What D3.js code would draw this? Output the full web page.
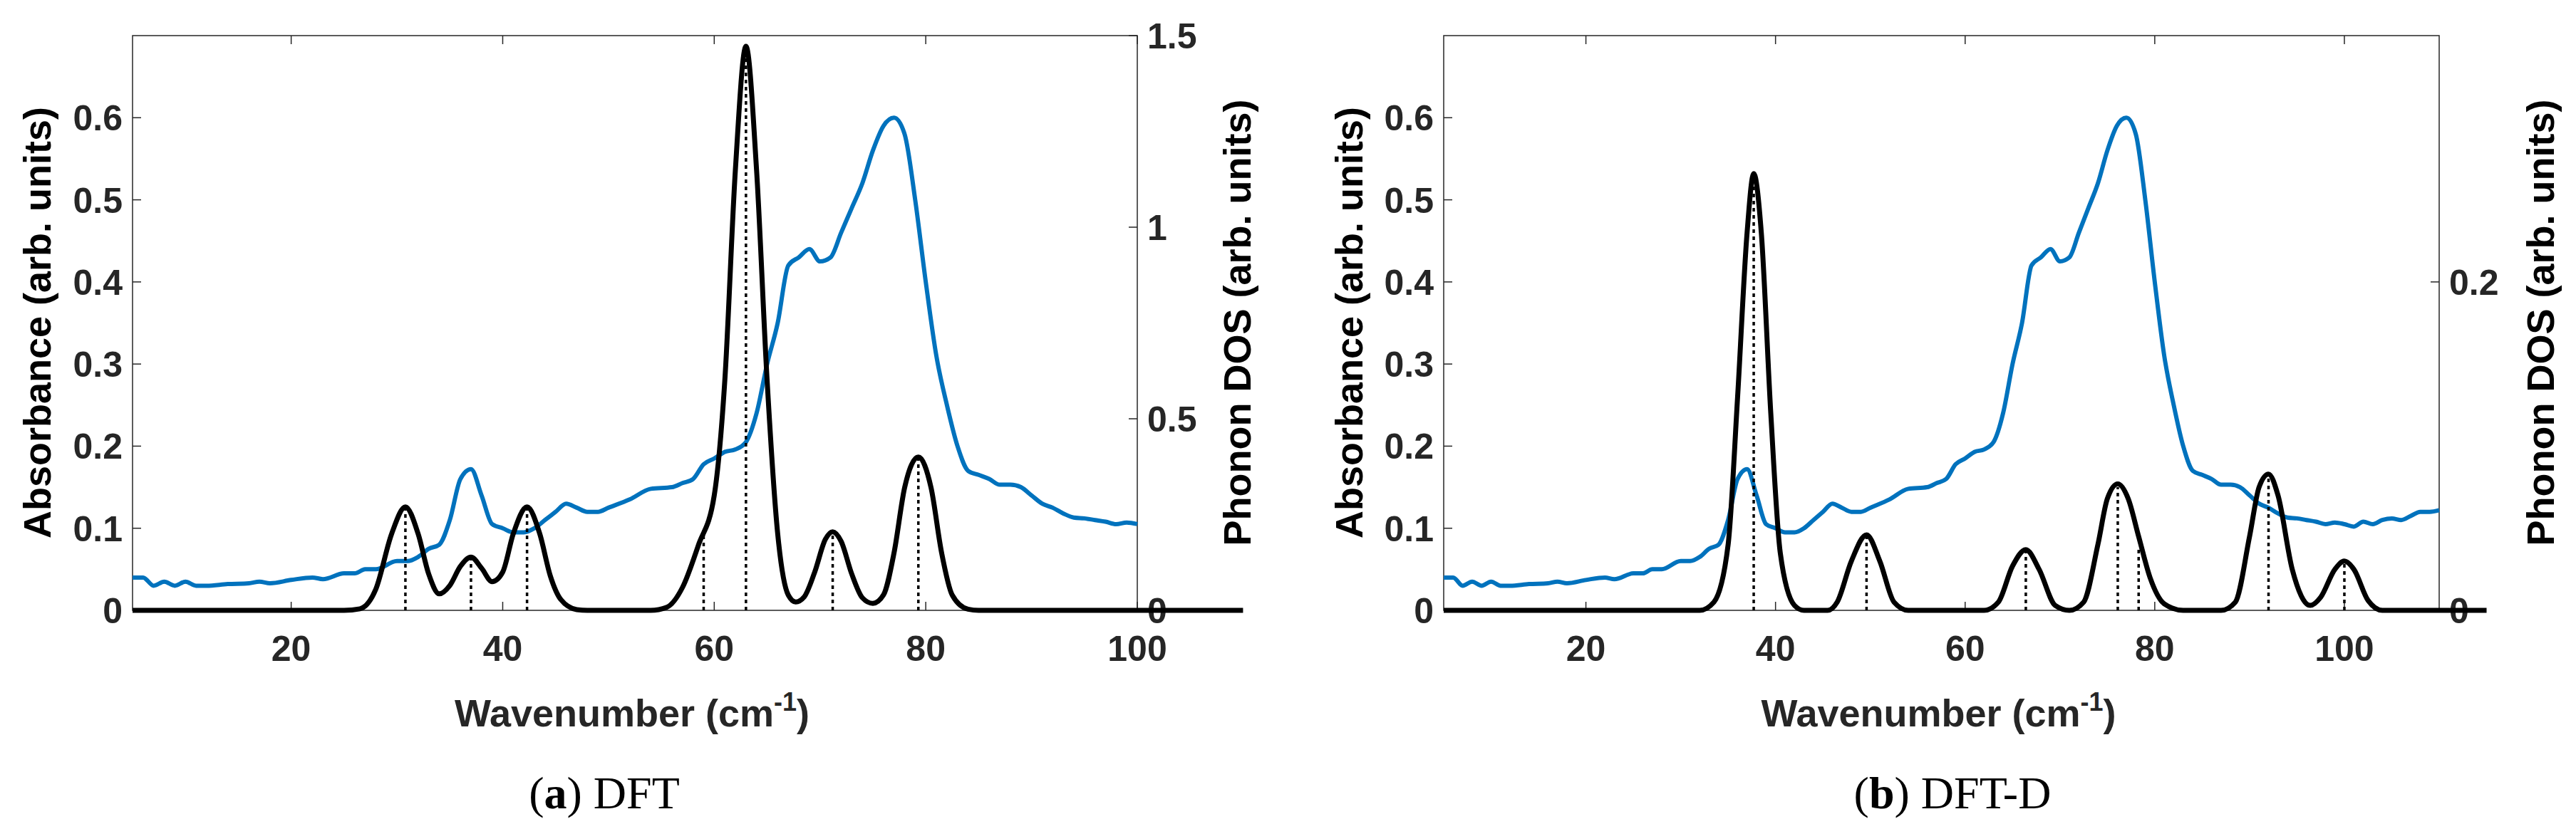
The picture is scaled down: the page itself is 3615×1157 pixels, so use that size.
<!DOCTYPE html>
<html><head><meta charset="utf-8">
<script src="https://cdn.jsdelivr.net/npm/d3@7"></script>
<style>body{margin:0;background:#fff}</style>
</head><body>
<svg id="c" width="3615" height="1157"></svg>
<script>
// measured absorbance (same sample in both panels)
const absorbance = [[5,0.04],[6,0.04],[7,0.03],[8,0.035],[9,0.03],[10,0.035],[11,0.03],[12,0.03],[14,0.032],[16,0.033],[17,0.035],[18,0.033],[20,0.037],[22,0.04],[23,0.038],[25,0.045],[26,0.045],[27,0.05],[28,0.05],[30,0.06],[31,0.06],[32,0.065],[33,0.075],[34,0.08],[35,0.11],[36,0.16],[37,0.172],[38,0.14],[39,0.105],[40,0.1],[41,0.095],[42,0.095],[43,0.1],[44,0.11],[45,0.12],[46,0.13],[47,0.125],[48,0.12],[49,0.12],[50,0.125],[52,0.135],[54,0.148],[56,0.15],[57,0.155],[58,0.16],[59,0.178],[60,0.185],[61,0.193],[62,0.196],[63,0.205],[64,0.24],[65,0.3],[66,0.35],[67,0.42],[68,0.43],[69,0.44],[70,0.425],[71,0.43],[72,0.46],[73,0.49],[74,0.52],[75,0.56],[76,0.59],[77,0.6],[78,0.58],[79,0.5],[80,0.4],[81,0.31],[82,0.25],[83,0.2],[84,0.17],[85,0.165],[86,0.16],[87,0.153],[88,0.153],[89,0.15],[90,0.14],[91,0.13],[92,0.125],[93,0.118],[94,0.113],[95,0.112],[96,0.11],[97,0.108],[98,0.105],[99,0.107],[100,0.105],[101,0.102],[102,0.108],[103,0.105],[104,0.11],[105,0.112],[106,0.11],[107,0.115],[108,0.12],[109,0.12],[110,0.122]];

// phonon DOS, DFT
const dosA = [[5,0],[25,0],[26.5,0.004],[28,0.055],[29.5,0.2],[30.8,0.27],[32,0.2],[33,0.095],[34,0.043],[35,0.065],[36,0.115],[37,0.139],[38,0.11],[39,0.075],[40,0.1],[41,0.2],[42.3,0.27],[43.5,0.2],[44.5,0.09],[45.5,0.028],[47,0.002],[48,0],[54,0],[55.5,0.008],[57,0.06],[58.5,0.17],[60,0.3],[61,0.6],[62,1.15],[63,1.472],[64,1.15],[65,0.6],[66,0.2],[67,0.04],[67.7,0.022],[68.5,0.035],[69.5,0.1],[70.5,0.185],[71.2,0.205],[72,0.18],[73,0.095],[74,0.033],[75,0.018],[76,0.04],[77,0.15],[78,0.32],[79.3,0.4],[80.5,0.32],[81.5,0.15],[82.5,0.04],[84,0.003],[85,0],[110,0]];
const modesA = [[30.8,0.265],[37,0.135],[42.3,0.265],[59,0.21],[63,1.46],[71.2,0.2],[79.3,0.395]];

// phonon DOS, DFT-D
const dosB = [[5,0],[32,0],[33.5,0.005],[35,0.04],[36,0.13],[37,0.23],[37.7,0.266],[38.5,0.23],[39.5,0.12],[40.5,0.035],[42,0.003],[43,0],[45.5,0],[46.5,0.005],[48,0.03],[49.6,0.046],[51,0.03],[52.5,0.005],[54,0],[62,0],[63.5,0.005],[65,0.027],[66.4,0.037],[67.8,0.025],[69.5,0.003],[71,0],[72.5,0.005],[74,0.04],[75,0.068],[76.1,0.077],[77.2,0.068],[78.3,0.045],[79.5,0.02],[81,0.004],[83,0],[87,0],[88.5,0.005],[90,0.045],[91,0.075],[92,0.083],[93,0.07],[94.5,0.025],[96.4,0.003],[97.5,0.008],[99,0.025],[100,0.03],[101,0.025],[102.5,0.006],[104,0],[115,0]];
const modesB = [[37.7,0.26],[49.6,0.045],[66.4,0.036],[76.1,0.075],[78.3,0.038],[92,0.082],[100,0.03]];

const xTicks = [20,40,60,80,100];
const absTicks = [0,0.1,0.2,0.3,0.4,0.5,0.6];

const panels = [
  {left:186, right:1596, xMax:100, absUntil:100, dos:dosA, modes:modesA, dosMax:1.5, dosTicks:[0,0.5,1,1.5],
   fmt:d=>d===1?'1':d, letter:'a', name:'DFT', capX:848, ylx:52, yrx:1736},
  {left:2026, right:3423, xMax:110, absUntil:110, dos:dosB, modes:modesB, dosMax:0.35, dosTicks:[0,0.2],
   fmt:d=>d, letter:'b', name:'DFT-D', capX:2740, ylx:1893, yrx:3565}
];
const plotTop = 50, plotBottom = 857;
const svg = d3.select('#c');
const font = "'Liberation Sans', Arial, sans-serif";

panels.forEach(p => {
  const x = d3.scaleLinear().domain([5, p.xMax]).range([p.left, p.right]);
  const y = d3.scaleLinear().domain([0, 0.7]).range([plotBottom, plotTop]);
  const y2 = d3.scaleLinear().domain([0, p.dosMax]).range([plotBottom, plotTop]);
  const g = svg.append('g');

  // frame
  g.append('rect').attr('x', p.left).attr('y', plotTop).attr('width', p.right - p.left).attr('height', plotBottom - plotTop)
    .attr('fill', 'none').attr('stroke', '#262626').attr('stroke-width', 1.5);

  // ticks
  xTicks.forEach(t => {
    g.append('line').attr('x1', x(t)).attr('x2', x(t)).attr('y1', plotBottom).attr('y2', plotBottom - 12).attr('stroke', '#262626').attr('stroke-width', 1.5);
    g.append('line').attr('x1', x(t)).attr('x2', x(t)).attr('y1', plotTop).attr('y2', plotTop + 12).attr('stroke', '#262626').attr('stroke-width', 1.5);
    g.append('text').attr('x', x(t)).attr('y', 928).attr('text-anchor', 'middle')
      .attr('font-family', font).attr('font-size', 50).attr('font-weight', 'bold').attr('fill', '#262626').text(t);
  });
  absTicks.forEach(t => {
    g.append('line').attr('x1', p.left).attr('x2', p.left + 12).attr('y1', y(t)).attr('y2', y(t)).attr('stroke', '#262626').attr('stroke-width', 1.5);
    g.append('text').attr('x', p.left - 14).attr('y', y(t) + 18).attr('text-anchor', 'end')
      .attr('font-family', font).attr('font-size', 50).attr('font-weight', 'bold').attr('fill', '#262626').text(t);
  });
  p.dosTicks.forEach(t => {
    g.append('line').attr('x1', p.right).attr('x2', p.right - 12).attr('y1', y2(t)).attr('y2', y2(t)).attr('stroke', '#262626').attr('stroke-width', 1.5);
    g.append('text').attr('x', p.right + 14).attr('y', y2(t) + 18).attr('text-anchor', 'start')
      .attr('font-family', font).attr('font-size', 50).attr('font-weight', 'bold').attr('fill', '#262626').text(p.fmt(t));
  });

  // absorbance
  g.append('path').datum(absorbance.filter(d => d[0] <= p.absUntil))
    .attr('d', d3.line().x(d => x(d[0])).y(d => y(d[1])).curve(d3.curveMonotoneX))
    .attr('fill', 'none').attr('stroke', '#0072bd').attr('stroke-width', 6);

  // mode sticks
  g.selectAll(null).data(p.modes).enter().append('line')
    .attr('x1', d => x(d[0])).attr('x2', d => x(d[0]))
    .attr('y1', plotBottom).attr('y2', d => y2(d[1]))
    .attr('stroke', '#000').attr('stroke-width', 3.5).attr('stroke-dasharray', '5,5');

  // phonon DOS
  g.append('path').datum(p.dos)
    .attr('d', d3.line().x(d => x(d[0])).y(d => y2(d[1])).curve(d3.curveMonotoneX))
    .attr('fill', 'none').attr('stroke', '#000').attr('stroke-width', 7);

  // axis titles
  g.append('text').attr('transform', `translate(${p.ylx},453) rotate(-90)`).attr('text-anchor', 'middle')
    .attr('dominant-baseline', 'central').attr('font-family', font).attr('font-size', 54).attr('font-weight', 'bold')
    .attr('fill', '#000').text('Absorbance (arb. units)');
  g.append('text').attr('transform', `translate(${p.yrx},453) rotate(-90)`).attr('text-anchor', 'middle')
    .attr('dominant-baseline', 'central').attr('font-family', font).attr('font-size', 54).attr('font-weight', 'bold')
    .attr('fill', '#000').text('Phonon DOS (arb. units)');
  const xl = g.append('text').attr('x', (p.left + p.right) / 2 - 4).attr('y', 1020).attr('text-anchor', 'middle')
    .attr('font-family', font).attr('font-size', 54).attr('font-weight', 'bold').attr('fill', '#262626');
  xl.append('tspan').text('Wavenumber (cm');
  xl.append('tspan').attr('dy', -22).attr('font-size', 36).text('-1');
  xl.append('tspan').attr('dy', 22).text(')');

  // caption
  const cap = g.append('text').attr('x', p.capX).attr('y', 1135).attr('text-anchor', 'middle')
    .attr('font-family', "'Liberation Serif', serif").attr('font-size', 64).attr('fill', '#000');
  cap.append('tspan').text('(');
  cap.append('tspan').attr('font-weight', 'bold').text(p.letter);
  cap.append('tspan').text(') ' + p.name);
});
</script>
</body></html>
